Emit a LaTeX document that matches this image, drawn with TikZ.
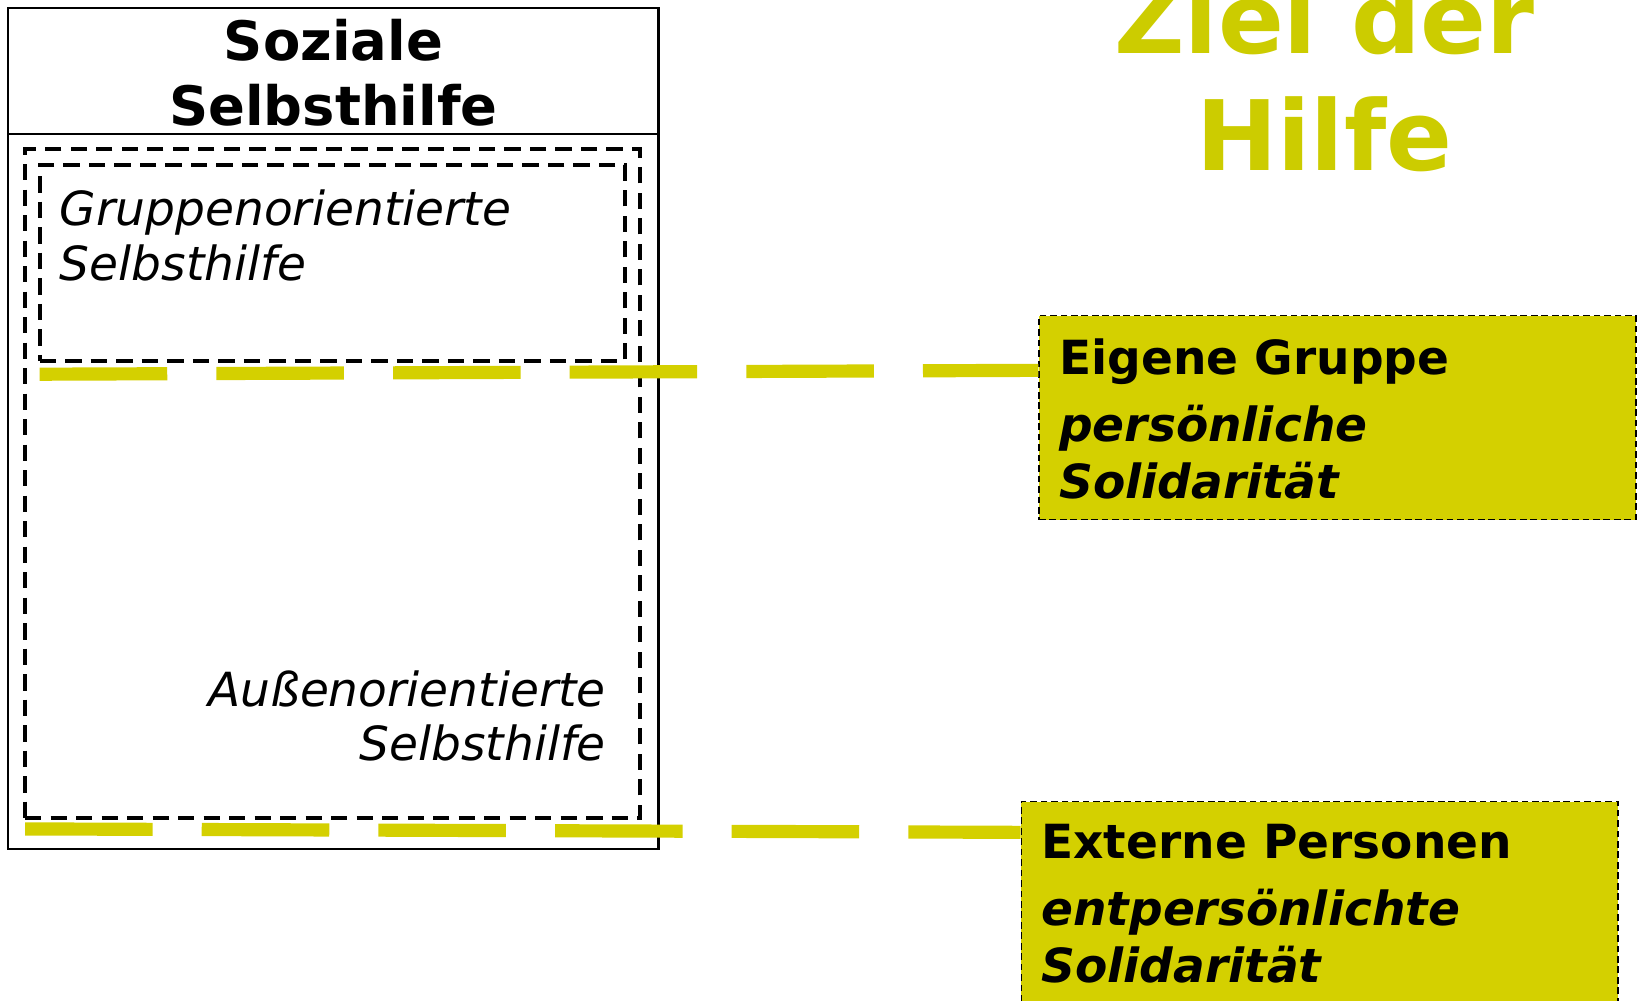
\documentclass[tikz,border=0pt]{standalone}
\usepackage{fontspec}
\setmainfont{DejaVu Sans}
\definecolor{ylw}{RGB}{212,208,0}
\definecolor{ylwt}{RGB}{204,204,0}
\begin{document}
\begin{tikzpicture}[x=0.5pt,y=-0.5pt,
  frame/.style={draw=black, line width=1pt, inner sep=0pt},
  blackdash/.style={draw=black, line width=1.9pt, dash pattern=on 7.8pt off 4.4pt, inner sep=0pt},
  ylwbox/.style={fill=ylw, draw=black, line width=0.7pt, dash pattern=on 3.2pt off 1.8pt, inner sep=0pt, minimum width=285.5pt},
  ylwline/.style={draw=ylw, line width=6.3pt, dash pattern=on 61pt off 23.5pt},
  boxtext/.style={anchor=base west, align=left, inner sep=0pt, font=\bfseries\fontsize{22.5}{27.5}\selectfont},
  itext/.style={inner sep=0pt, font=\itshape\fontsize{22.5}{26}\selectfont}]
\useasboundingbox (0,0) rectangle (1568,957);
% left frame
\node[frame, minimum width=311pt, minimum height=402pt] (outer) at (319,410) {};
\coordinate (hdr) at (0,128);
\draw[line width=1pt] (outer.west |- hdr) -- (outer.east |- hdr);
\node[anchor=base, align=center, inner sep=0pt, font=\bfseries\fontsize{26}{31}\selectfont] (title) at (319,120) {Soziale\\Selbsthilfe};
% dashed regions
\node[blackdash, minimum width=294pt, minimum height=320pt] (aussen) at (318,463) {};
\node[blackdash, minimum width=280pt, minimum height=93.5pt] (gruppe) at (318,251.5) {};
\node[itext, anchor=base west, align=left] (gtext) at (57,268) {Gruppenorientierte\\Selbsthilfe};
\node[itext, anchor=base east, align=right] (atext) at (580,728) {Außenorientierte\\Selbsthilfe};
% right boxes
\node[ylwbox, minimum height=97.5pt] (box1) at (1279.5,399.5) {};
\node[ylwbox, minimum height=116.5pt] (box2) at (1262.5,883.5) {};
\node[boxtext] (t1) at (1013,477) {Eigene Gruppe\\[4.5pt]\textit{persönliche}\\\textit{Solidarität}};
\node[boxtext] (t2) at (996,940) {Externe Personen\\[4.5pt]\textit{entpersönlichte}\\\textit{Solidarität}};
% heading
\node[anchor=base, align=center, inner sep=0pt, text=ylwt, font=\bfseries\fontsize{46.5}{56}\selectfont] (ziel) at (1267,163) {Ziel der\\Hilfe};
% yellow connectors
\coordinate (s1) at (38,358);
\coordinate (e1) at ([yshift=-26.5pt]box1.north west);
\coordinate (s2) at (24,793);
\coordinate (e2) at ([yshift=-15pt]box2.north west);
\draw[ylwline] (s1) -- (e1);
\draw[ylwline] (s2) -- (e2);
\end{tikzpicture}
\end{document}
